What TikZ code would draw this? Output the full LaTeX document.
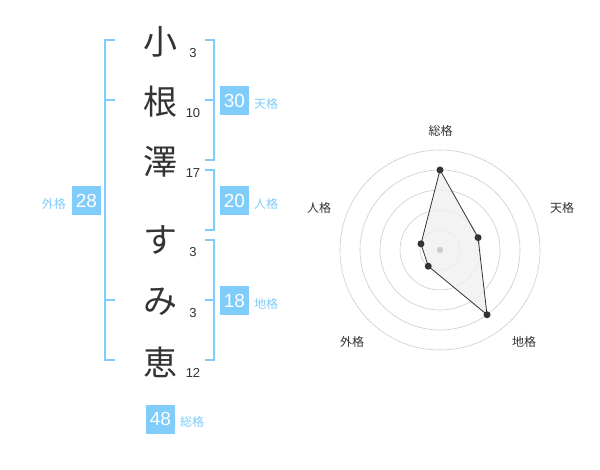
\documentclass[tikz,border=0pt]{standalone}
\usepackage{fontspec}
\usetikzlibrary{calc}
\setmainfont{Liberation Sans}
\newfontfamily\cjk{Noto Sans CJK JP}
\definecolor{kblue}{RGB}{128,204,250}
\definecolor{ktext}{RGB}{51,51,51}
\definecolor{kgrid}{RGB}{205,205,205}
\definecolor{kfill}{RGB}{240,240,240}
\begin{document}
\begin{tikzpicture}[x=1pt,y=-1pt,
  kanji/.style={font=\cjk\fontsize{34}{34}\selectfont, text=ktext, inner sep=0},
  strokes/.style={font=\fontsize{13}{13}\selectfont, text=ktext, inner sep=0},
  valbox/.style={fill=kblue, text=white, minimum size=29pt, inner sep=0, font=\fontsize{19}{19}\selectfont},
  kaku/.style={font=\cjk\fontsize{12}{12}\selectfont, text=kblue, inner sep=0},
  bracket/.style={draw=kblue, line width=2pt},
  radarlabel/.style={font=\cjk\fontsize{12}{12}\selectfont, text=ktext, inner sep=0},
  ring/.style={draw=kgrid, line width=0.6pt},
  dot/.style={circle, fill=ktext, inner sep=0, minimum size=7pt}
]
\useasboundingbox (0,0) rectangle (600,470);
\fill[white] (0,0) rectangle (600,470);

% characters
\node[kanji] (c1) at (160,42) {小};
\node[kanji] (c2) at (160,102) {根};
\node[kanji] (c3) at (160,162) {澤};
\node[kanji] (c4) at (160,240) {す};
\node[kanji] (c5) at (160,302) {み};
\node[kanji] (c6) at (160,362) {恵};

\node[strokes] (s1) at (193,53) {3};
\node[strokes] (s2) at (193,113) {10};
\node[strokes] (s3) at (193,173) {17};
\node[strokes] (s4) at (193,252) {3};
\node[strokes] (s5) at (193,313) {3};
\node[strokes] (s6) at (193,373) {12};

% brackets
\draw[bracket] (115,40) -- (105,40) -- (105,360) -- (115,360);
\draw[bracket] (105,100) -- (115,100);
\draw[bracket] (105,300) -- (115,300);

\draw[bracket] (205,40) -- (214,40) -- (214,160) -- (205,160);
\draw[bracket] (205,100) -- (214,100);
\draw[bracket] (205,170) -- (214,170) -- (214,230) -- (205,230);
\draw[bracket] (205,240) -- (214,240) -- (214,360) -- (205,360);
\draw[bracket] (205,300) -- (214,300);

% value boxes
\node[valbox] (ten) at (234.5,100.5) {30};
\node[kaku, anchor=west] (tenl) at (254,103.5) {天格};
\node[valbox] (jin) at (234.5,200.5) {20};
\node[kaku, anchor=west] (jinl) at (254,203.5) {人格};
\node[valbox] (chi) at (234.5,300.5) {18};
\node[kaku, anchor=west] (chil) at (254,303.5) {地格};
\node[valbox] (gai) at (86.5,200.5) {28};
\node[kaku, anchor=east] (gail) at (66,203.5) {外格};
\node[valbox] (sou) at (160.5,419) {48};
\node[kaku, anchor=west] (soul) at (180,422) {総格};

% radar chart
\coordinate (o) at (440,250);
\foreach \r in {20,40,60,80,100} \draw[ring] (o) circle (\r);
\coordinate (p1) at ($(o)+(-90:80)$);
\coordinate (p2) at ($(o)+(-18:40)$);
\coordinate (p3) at ($(o)+(54:80)$);
\coordinate (p4) at ($(o)+(126:20)$);
\coordinate (p5) at ($(o)+(-162:20)$);
\draw[ktext, line width=0.8pt, fill=kfill, fill opacity=0.8] (p1) -- (p2) -- (p3) -- (p4) -- (p5) -- cycle;
\fill[kgrid] (o) circle (3.2);
\foreach \p in {p1,p2,p3,p4,p5} \node[dot] at (\p) {};

\node[radarlabel] (l1) at (440.5,130.5) {総格};
\node[radarlabel] (l2) at (562,208) {天格};
\node[radarlabel] (l3) at (524,342) {地格};
\node[radarlabel] (l4) at (352,342) {外格};
\node[radarlabel] (l5) at (319,208) {人格};
\end{tikzpicture}
\end{document}
